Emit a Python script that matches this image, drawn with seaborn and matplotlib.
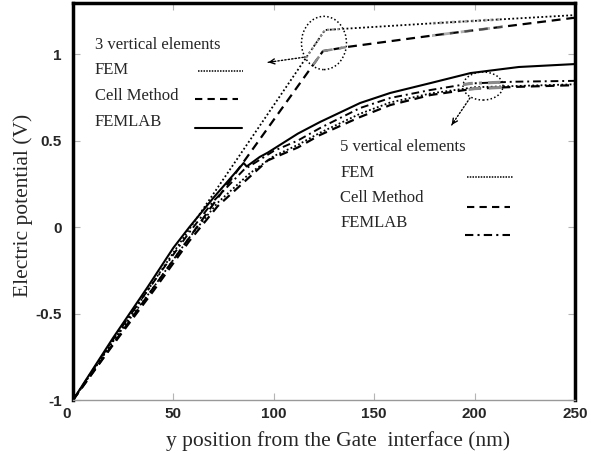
import matplotlib
matplotlib.use("Agg")
import matplotlib.pyplot as plt
import matplotlib.transforms as mtransforms
from matplotlib.patches import Ellipse, Rectangle
import seaborn as sns

# ---- data (x in nm, potential in V) ----
fem3_x = [0, 125.5, 181, 250]
fem3_y = [-1.0, 1.139, 1.179, 1.225]

cell3_x = [0, 124.5, 136, 181, 250]
cell3_y = [-1.0, 1.017, 1.04, 1.11, 1.21]

femlab3_x = [0, 20, 37, 50, 58, 70, 85, 86.5, 93, 97, 112, 123, 143, 158, 178, 198, 222, 250]
femlab3_y = [-1.0, -0.64, -0.35, -0.12, 0.0, 0.17, 0.37, 0.35, 0.405, 0.43, 0.54, 0.607,
             0.717, 0.775, 0.832, 0.89, 0.925, 0.942]

fem5_x = [0, 20, 40, 58, 72, 88, 100, 112, 123, 143, 158, 178, 200, 220, 250]
fem5_y = [-1.0, -0.66, -0.35, -0.06, 0.14, 0.31, 0.41, 0.475, 0.545, 0.655, 0.72,
          0.772, 0.808, 0.815, 0.825]

cell5_x = [0, 20, 40, 58, 72, 88, 97, 112, 123, 143, 158, 178, 200, 220, 250]
cell5_y = [-1.0, -0.68, -0.37, -0.08, 0.12, 0.29, 0.385, 0.46, 0.532, 0.636, 0.705,
           0.763, 0.80, 0.81, 0.82]

femlab5_x = [0, 20, 40, 58, 70, 85, 100, 112, 123, 143, 158, 178, 198, 220, 250]
femlab5_y = [-1.0, -0.65, -0.32, -0.03, 0.15, 0.33, 0.44, 0.50, 0.572, 0.688, 0.746,
             0.792, 0.83, 0.84, 0.845]

xticks = [0, 50, 100, 150, 200, 250]
yticks = [-1, -0.5, 0, 0.5, 1]
ytick_labels = ["-1", "-0.5", "0", "0.5", "1"]

legend3_title = "3 vertical elements"
legend5_title = "5 vertical elements"
method_names = ["FEM", "Cell Method", "FEMLAB"]

sns.set_theme(style="ticks")
plt.rcParams['font.family'] = ['Liberation Serif', 'DejaVu Serif']

DOT = (0, (1, 1.3))
DASH = (0, (4, 2.6))
DASHDOT = (0, (4, 2, 1, 2))

fig = plt.figure(figsize=(5.93, 4.54), dpi=100)
ax = fig.add_axes([0.1231, 0.1189, 0.8465, 0.8745])

series = [
    (fem3_x, fem3_y, DOT, 1.3),
    (cell3_x, cell3_y, DASH, 1.6),
    (fem5_x, fem5_y, DOT, 1.3),
    (cell5_x, cell5_y, DASH, 1.6),
    (femlab5_x, femlab5_y, DASHDOT, 1.4),
    (femlab3_x, femlab3_y, '-', 1.5),
]
for x, y, ls, lw in series:
    sns.lineplot(x=x, y=y, ax=ax, color='black', lw=lw, linestyle=ls,
                 sort=False, estimator=None)

ax.set_xlim(0, 250)
ax.set_ylim(-1, 1.295)

# dotted circles with grey highlight inside
circ1 = Ellipse((125, 1.064), 22.4, 0.308, fill=False, ec='black', lw=1.1, ls=(0, (1, 1.5)))
circ2 = Ellipse((204.2, 0.815), 19.9, 0.162, fill=False, ec='black', lw=1.1, ls=(0, (1, 1.5)))
ax.add_patch(circ1)
ax.add_patch(circ2)
for x, y, ls, lw in [(fem3_x, fem3_y, DOT, 1.6), (cell3_x, cell3_y, DASH, 1.8)]:
    ln, = ax.plot(x, y, color='#8a8a8a', lw=lw, ls=ls)
    ln.set_clip_path(circ1)
for x, y, ls, lw in [(cell5_x, cell5_y, DASH, 2.2), (femlab5_x, femlab5_y, DASHDOT, 2.2)]:
    ln, = ax.plot(x, y, color='#8a8a8a', lw=lw, ls=ls)
    ln.set_clip_path(circ2)
blur = Rectangle((179, 1.08), 35, 0.18, fill=False, lw=0)
ax.add_patch(blur)
for x, y, ls in [(fem3_x, fem3_y, DOT), (cell3_x, cell3_y, DASH)]:
    ln, = ax.plot(x, y, color='#7a7a7a', lw=2.0, ls=ls, alpha=0.6)
    ln.set_clip_path(blur)

# dotted arrows from circles to legends
for tail, tip in [((114.7, 0.981), (97.2, 0.952)), ((197.7, 0.746), (188.6, 0.59))]:
    ax.annotate('', xy=tip, xytext=tail,
                arrowprops=dict(arrowstyle='-', ls=(0, (1, 1.5)), lw=1.0, color='black',
                                shrinkA=0, shrinkB=0))
    dx, dy = tip[0] - tail[0], tip[1] - tail[1]
    ax.annotate('', xy=tip, xytext=(tip[0] - 0.15 * dx, tip[1] - 0.15 * dy),
                arrowprops=dict(arrowstyle='->', lw=1.0, color='black',
                                mutation_scale=9, shrinkA=0, shrinkB=0))

# hand-made legends: text on the left, line sample on the right
leg_fs = 12
ax.text(10.96, 1.052, legend3_title, fontsize=leg_fs, va='center')
for name, yy in zip(method_names, [0.908, 0.757, 0.607]):
    ax.text(10.96, yy, name, fontsize=leg_fs, va='center')
ax.plot([62.3, 84.7], [0.902, 0.902], color='black', lw=1.1, ls=(0, (1, 0.8)))
ax.plot([60.8, 82.2], [0.74, 0.74], color='black', lw=1.5, ls=(0, (3.5, 2.5)))
ax.plot([60.8, 84.2], [0.572, 0.572], color='black', lw=1.5)

ax.text(133, 0.462, legend5_title, fontsize=leg_fs, va='center')
for name, yy in zip(method_names, [0.312, 0.168, 0.023]):
    ax.text(133, yy, name, fontsize=leg_fs, va='center')
ax.plot([196.2, 219.1], [0.289, 0.289], color='black', lw=1.1, ls=(0, (1, 0.8)))
ax.plot([196.2, 217.6], [0.116, 0.116], color='black', lw=1.5, ls=(0, (3.5, 2.5)))
ax.plot([195.2, 217.6], [-0.046, -0.046], color='black', lw=1.5, ls=(0, (4, 2, 1, 2)))

# frame: heavy left/right/top, thin grey bottom
for side in ['left', 'right', 'top']:
    ax.spines[side].set_linewidth(2.5)
    ax.spines[side].set_color('black')
ax.spines['bottom'].set_linewidth(1.0)
ax.spines['bottom'].set_color('#999999')

ax.set_xticks(xticks)
ax.set_xticklabels([str(t) for t in xticks], fontfamily='Liberation Sans',
                   fontweight='bold', fontsize=11)
ax.set_yticks(yticks)
ax.set_yticklabels(ytick_labels, fontfamily='Liberation Sans', fontweight='bold', fontsize=11)
ax.tick_params(axis='both', direction='in', length=5, width=0.8, color='#b5b5b5',
               top=True, right=True)
ax.tick_params(axis='y', pad=8)
ax.tick_params(axis='x', pad=5)
first = ax.get_xticklabels()[0]
first.set_transform(first.get_transform() + mtransforms.ScaledTranslation(-6 / 100, 0, fig.dpi_scale_trans))

ax.set_xlabel('y position from the Gate  interface (nm)', fontsize=15.5)
ax.set_ylabel('Electric potential (V)', fontsize=15.5)
ax.xaxis.set_label_coords(0.529, -0.078)
ax.yaxis.set_label_coords(-0.08, 0.49)

fig.savefig('out.png', dpi=100)
